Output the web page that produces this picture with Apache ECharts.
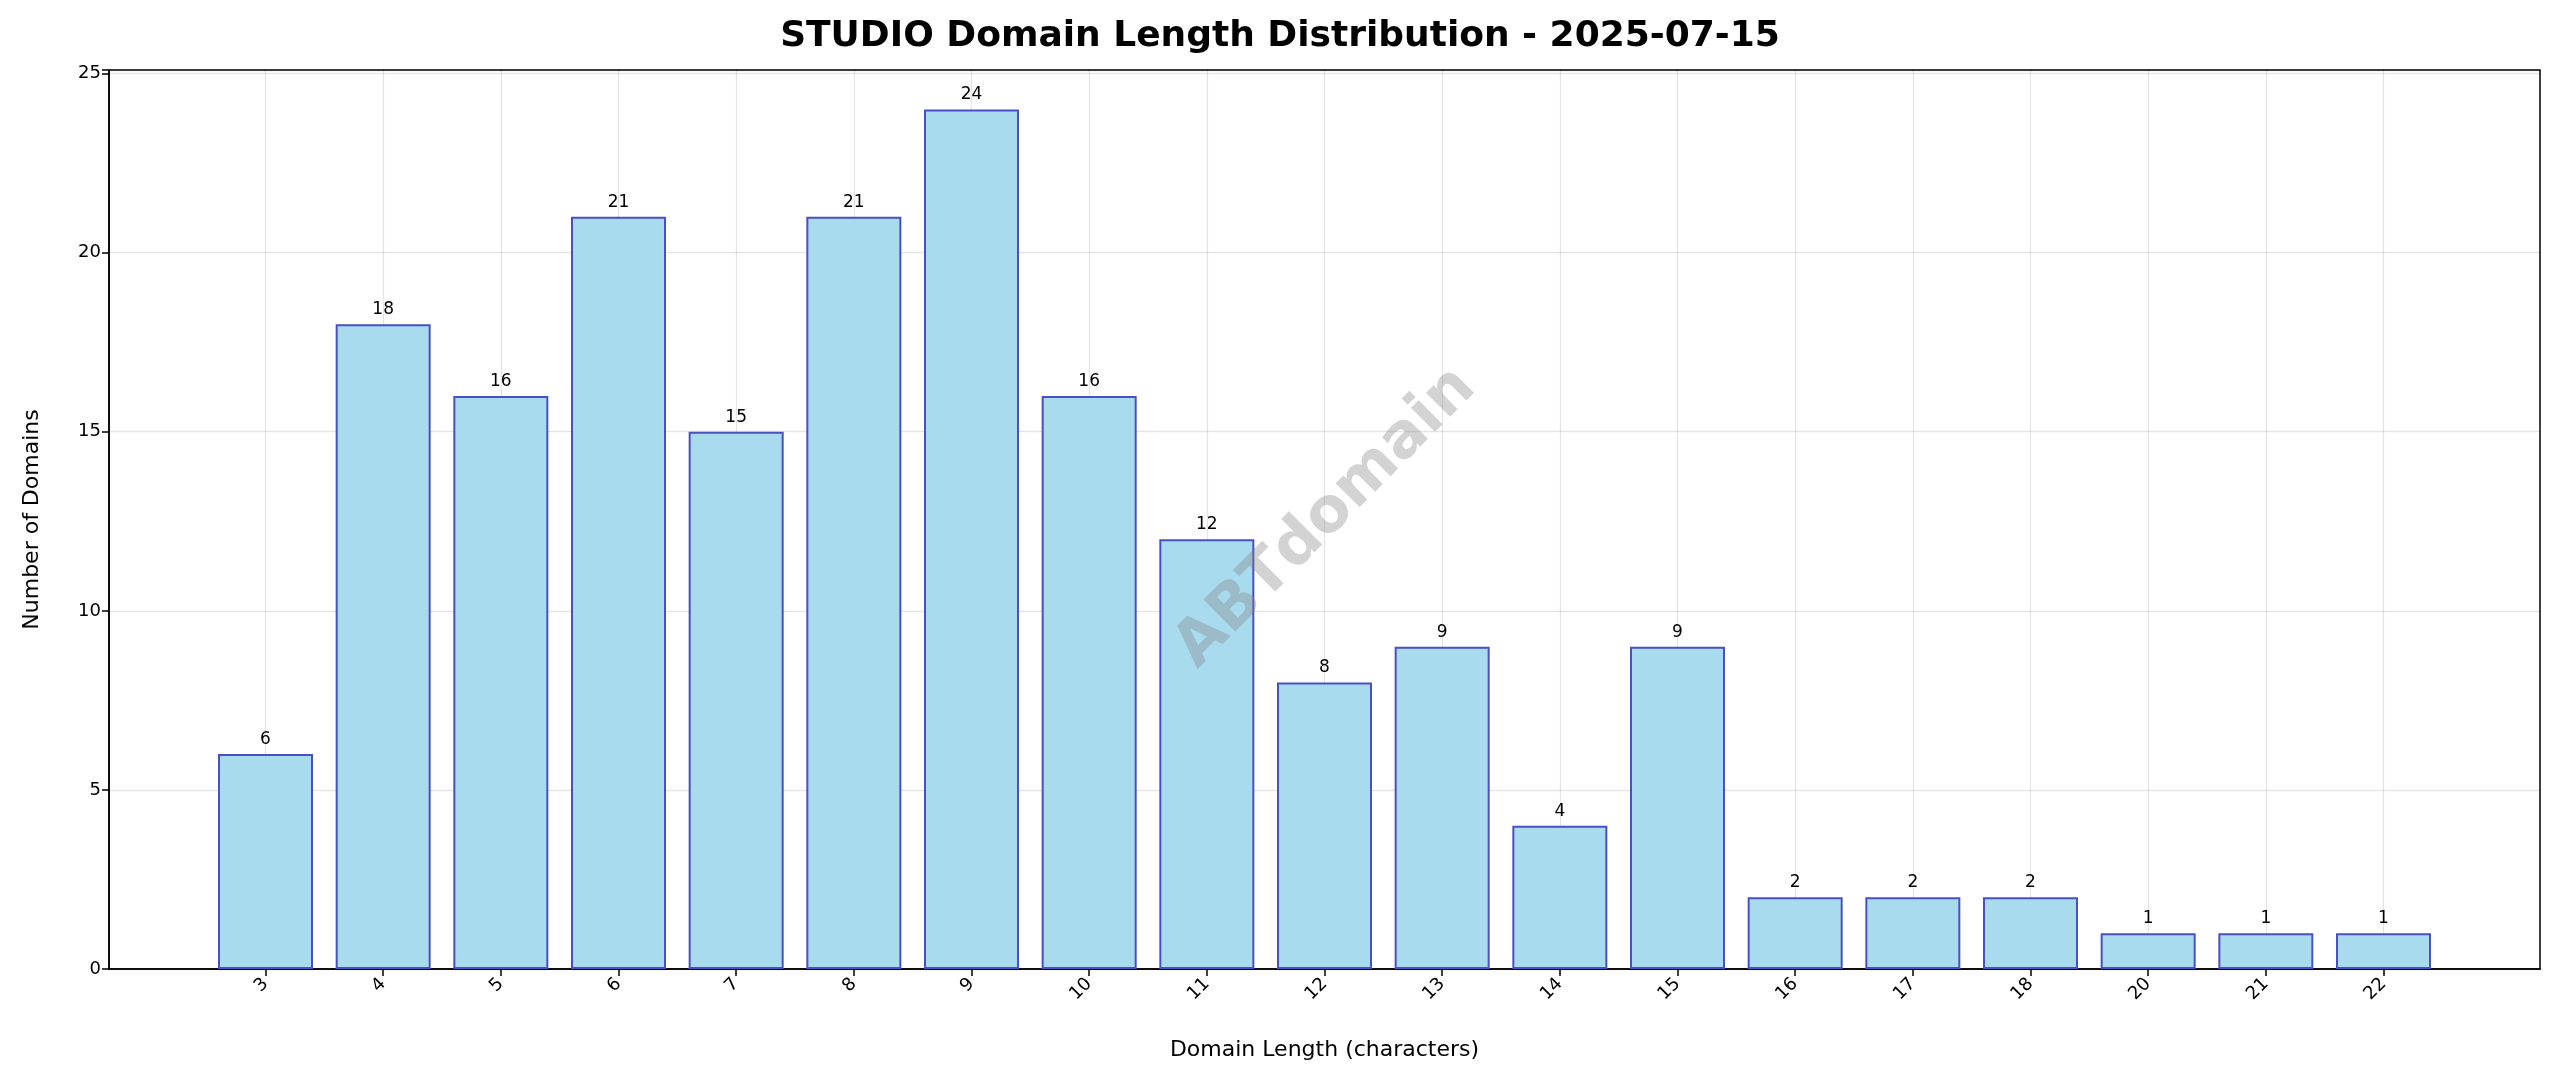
<!DOCTYPE html>
<html><head><meta charset="utf-8">
<script src="https://cdn.jsdelivr.net/npm/echarts@6/dist/echarts.min.js"></script>
<style>html,body{margin:0;padding:0;background:#fff}#c{width:2560px;height:1087px}</style>
</head><body><div id="c"></div>
<script>
const categories = ['3','4','5','6','7','8','9','10','11','12','13','14','15','16','17','18','20','21','22'];
const counts = [6,18,16,21,15,21,24,16,12,8,9,4,9,2,2,2,1,1,1];
const yTicks = [0,5,10,15,20,25];

const idx = categories.map((c,i)=>i);
const chart = echarts.init(document.getElementById('c'));
const F = 'DejaVu Sans';
chart.setOption({
  backgroundColor:'#fff',
  animation:false,
  title:{text:'STUDIO Domain Length Distribution - 2025-07-15',left:'center',top:14,
    textStyle:{fontFamily:F,fontSize:36,fontWeight:'bold',color:'#000'}},
  grid:{left:109,right:20,top:70,bottom:118,show:true,borderColor:'#000',borderWidth:1.5},
  graphic:[{type:'text',x:1326,y:518,rotation:Math.PI/4,z:100,
    style:{text:'ABTdomain',font:'bold 62px "DejaVu Sans"',fill:'rgba(128,128,128,0.35)',align:'center',verticalAlign:'middle'}}],
  xAxis:{type:'value',min:-1.33,max:categories.length-1+1.33,
    name:'Domain Length (characters)',nameLocation:'middle',nameGap:70,
    nameTextStyle:{fontFamily:F,fontSize:22,color:'#000'},
    axisLine:{show:true,onZero:false,lineStyle:{color:'#000',width:1.5}},
    axisTick:{show:true,length:7,customValues:idx,lineStyle:{color:'#000',width:1.5}},
    axisLabel:{rotate:45,fontFamily:F,fontSize:18,color:'#000',margin:12,customValues:idx,
      formatter:v=>categories[Math.round(v)]},
    splitLine:{show:false}},
  yAxis:{type:'value',min:0,max:25.1,interval:5,
    name:'Number of Domains',nameLocation:'middle',nameGap:66,
    nameTextStyle:{fontFamily:F,fontSize:22,color:'#000'},
    axisLine:{show:true,onZero:false,lineStyle:{color:'#000',width:1.5}},
    axisTick:{show:true,length:7,lineStyle:{color:'#000',width:1.5}},
    axisLabel:{fontFamily:F,fontSize:18,color:'#000',
      formatter:v=>yTicks.includes(v)?String(v):''},
    splitLine:{show:true,lineStyle:{color:'rgba(0,0,0,0.1)',width:1.3}}},
  series:[{type:'bar',barWidth:95,
    data:counts.map((v,i)=>[i,v]),
    itemStyle:{color:'#a9dbef',borderColor:'#4a4fc4',borderWidth:2},
    label:{show:true,position:'top',distance:6,fontFamily:F,fontSize:17,color:'#000',formatter:p=>p.value[1]},
    markLine:{silent:true,symbol:'none',z:0,label:{show:false},
      lineStyle:{color:'rgba(0,0,0,0.1)',type:'solid',width:1.3},
      data:idx.map(i=>({xAxis:i}))}}]
});
</script></body></html>
